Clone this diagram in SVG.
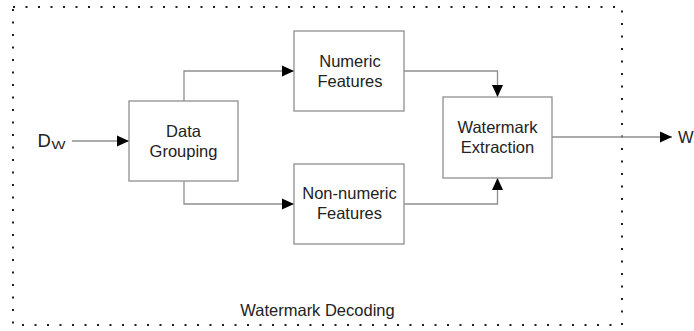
<svg xmlns="http://www.w3.org/2000/svg" width="694" height="331" viewBox="0 0 694 331">
<style>
.box{fill:#fff;stroke:#8f8f8f;stroke-width:1.3}
.ln{fill:none;stroke:#8f8f8f;stroke-width:1.3}
.t{font-family:"Liberation Sans",Arial,sans-serif;font-size:16.5px;fill:#222;text-anchor:middle}
.dot{fill:none;stroke:#222;stroke-width:2;stroke-dasharray:2 10.5}
</style>
<defs>
<marker id="ah" markerWidth="13" markerHeight="12" refX="12" refY="6" orient="auto" markerUnits="userSpaceOnUse">
<path d="M0,0.5 L12,6 L0,11.5 Z" fill="#000"/>
</marker>
</defs>
<g id="frame">
<rect x="13" y="7" width="609" height="318" class="dot"/>
<text class="t" x="317.5" y="316">Watermark Decoding</text>
</g>
<g id="connectors">
<line class="ln" x1="72" y1="141" x2="129" y2="141" marker-end="url(#ah)"/>
<polyline class="ln" points="184,101 184,71 294,71" marker-end="url(#ah)"/>
<polyline class="ln" points="184,181 184,204 294,204" marker-end="url(#ah)"/>
<polyline class="ln" points="404,71 497.5,71 497.5,97" marker-end="url(#ah)"/>
<polyline class="ln" points="404,204 497.5,204 497.5,178" marker-end="url(#ah)"/>
<line class="ln" x1="552" y1="137" x2="672" y2="137" marker-end="url(#ah)"/>
</g>
<g id="dw">
<text x="37.5" y="146.5" style="font-family:'Liberation Sans',Arial,sans-serif;font-size:18.5px;fill:#222">D</text>
<text x="51.5" y="148.7" textLength="14" lengthAdjust="spacingAndGlyphs" style="font-family:'Liberation Sans',Arial,sans-serif;font-size:11.5px;fill:#222">W</text>
</g>
<g id="w">
<text x="678" y="143.3" style="font-family:'Liberation Sans',Arial,sans-serif;font-size:16.5px;fill:#222">W</text>
</g>
<g id="data-grouping">
<rect class="box" x="129" y="101" width="109" height="80"/>
<text class="t" x="183.5" y="137">Data</text>
<text class="t" x="183.5" y="157">Grouping</text>
</g>
<g id="numeric">
<rect class="box" x="294" y="31" width="110" height="80"/>
<text class="t" x="350" y="66.5">Numeric</text>
<text class="t" x="350" y="86.5">Features</text>
</g>
<g id="non-numeric">
<rect class="box" x="294" y="164" width="110" height="80"/>
<text class="t" x="349.5" y="199">Non-numeric</text>
<text class="t" x="349.5" y="219">Features</text>
</g>
<g id="extraction">
<rect class="box" x="443" y="97" width="109" height="81"/>
<text class="t" x="497.5" y="132.5">Watermark</text>
<text class="t" x="497.5" y="152.5">Extraction</text>
</g>
</svg>
